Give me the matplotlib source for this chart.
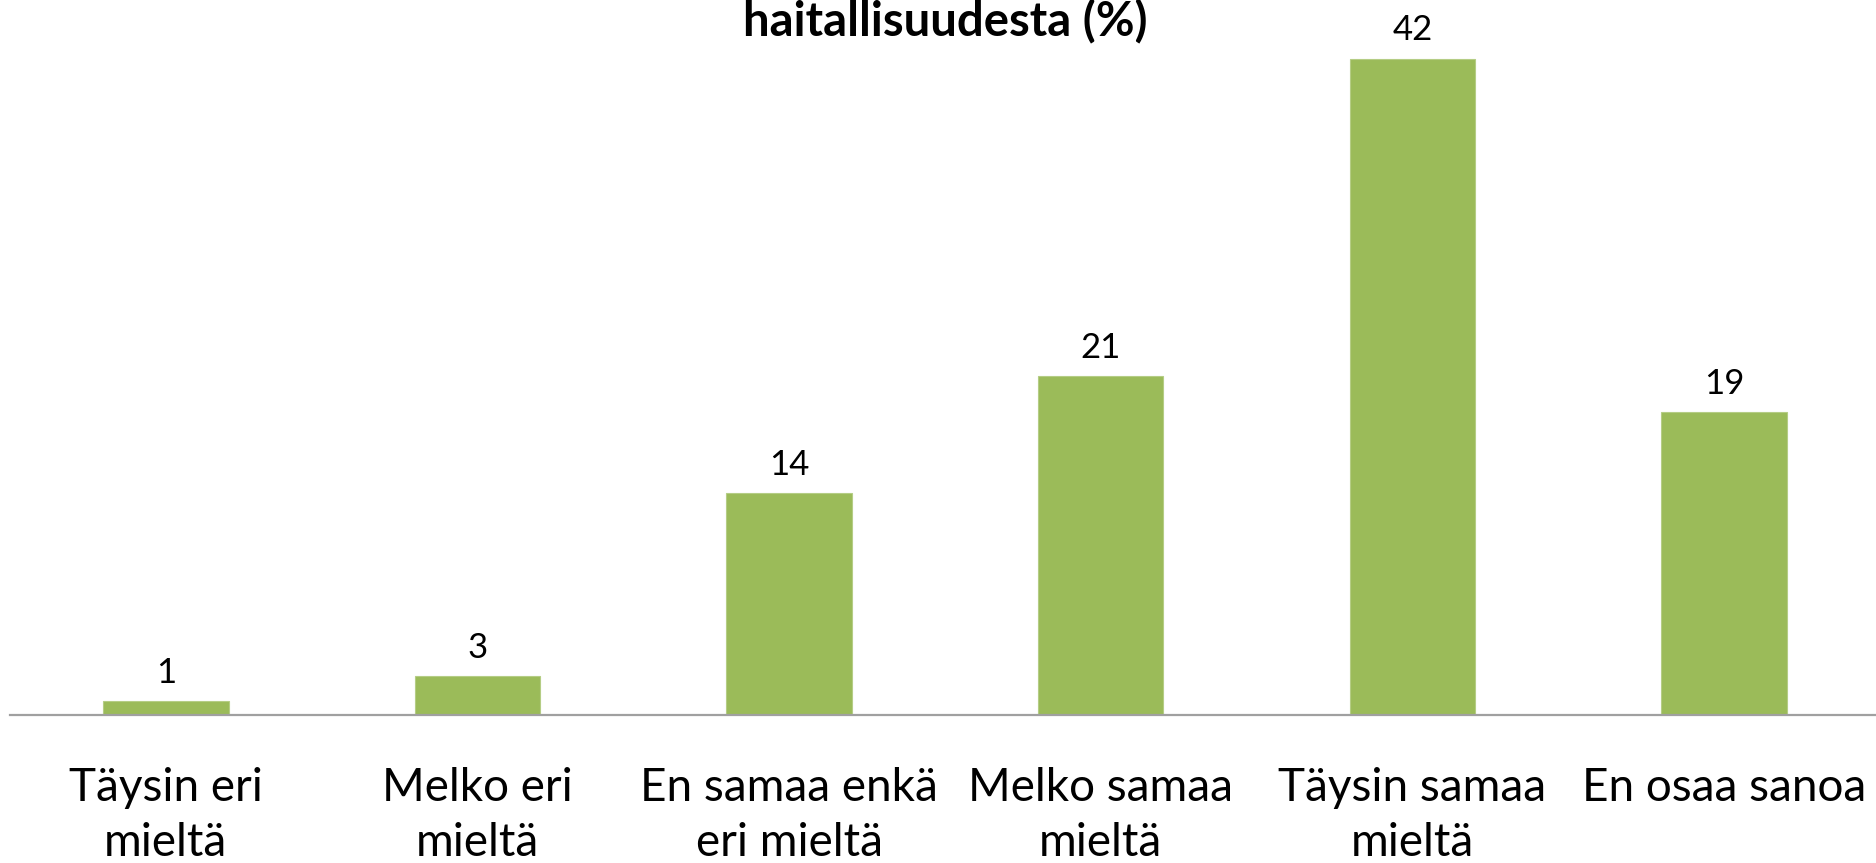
import matplotlib
matplotlib.use("Agg")
import matplotlib.pyplot as plt
import numpy as np

plt.rcParams['font.family'] = ['Lato', 'DejaVu Sans']

# data (bar heights, labels as printed)
categories = ['Täysin eri\nmieltä', 'Melko eri\nmieltä', 'En samaa enkä\neri mieltä',
              'Melko samaa\nmieltä', 'Täysin samaa\nmieltä', 'En osaa sanoa']
values = [0.9, 2.5, 14.2, 21.7, 42.0, 19.4]
labels = ['1', '3', '14', '21', '42', '19']
title = 'haitallisuudesta (%)'

fig = plt.figure(figsize=(18.76, 8.63), dpi=100)
ax = fig.add_axes([10 / 1876, 147.7 / 863, 1 - 10 / 1876 + 0.002, 1 - 147.7 / 863 - 12 / 863])

x = np.arange(len(values))
ax.bar(x, values, width=0.403, color='#9BBB59', edgecolor='#B5CD85', linewidth=0.8)

for xi, v, lab in zip(x, values, labels):
    ax.annotate(lab, (xi, v), xytext=(0, 9), textcoords='offset points',
                ha='center', va='bottom', fontsize=25, color='black')

ax.set_xlim(-0.5, len(values) - 0.5)
ax.set_ylim(0, 45)
ax.set_xticks(x)
ax.set_xticklabels(categories, fontsize=33, linespacing=1.39)
ax.tick_params(axis='x', length=0, pad=37)
ax.set_yticks([])
for s in ['top', 'right', 'left']:
    ax.spines[s].set_visible(False)
ax.spines['bottom'].set_color('#A0A0A0')
ax.spines['bottom'].set_linewidth(1.6)

fig.text(945 / 1876, 1 - 36 / 863, title, ha='center', va='baseline',
         fontsize=34, fontweight='bold')

fig.savefig('out.png', dpi=100)
